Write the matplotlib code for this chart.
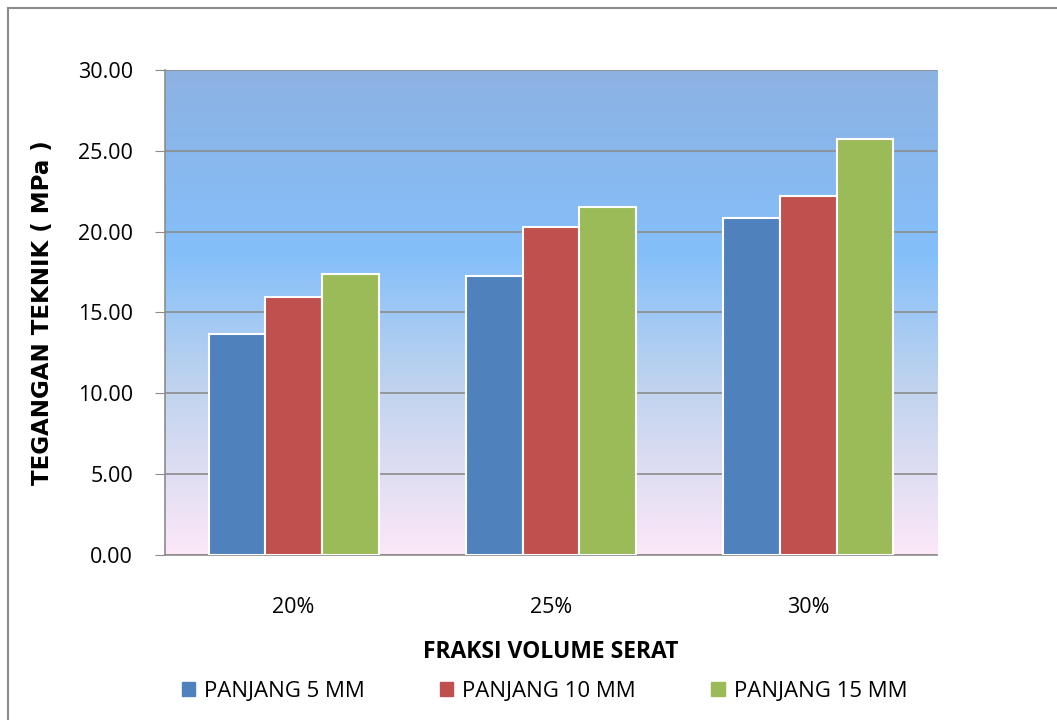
import numpy as np
import matplotlib
matplotlib.use("Agg")
import matplotlib.pyplot as plt
from matplotlib.colors import LinearSegmentedColormap
from matplotlib.lines import Line2D

plt.rcParams["font.family"] = ["Open Sans", "DejaVu Sans"]

categories = ["20%", "25%", "30%"]
series = ["PANJANG 5 MM", "PANJANG 10 MM", "PANJANG 15 MM"]
panjang_5 = [13.70, 17.28, 20.84]
panjang_10 = [15.95, 20.27, 22.18]
panjang_15 = [17.36, 21.55, 25.75]
colors = ["#4F81BD", "#C0504D", "#9BBB59"]
yticks = [0, 5, 10, 15, 20, 25, 30]

fig = plt.figure(figsize=(10.57, 7.2), dpi=100)
ax = fig.add_axes([0.156, 0.229, 0.7305, 0.674])

# gradient background (bottom pink -> bright blue -> muted blue top)
grad = LinearSegmentedColormap.from_list(
    "bg", [(0.0, "#FCE8F8"), (0.35, "#BFD3EE"), (0.62, "#84BFFA"), (1.0, "#8DB2E2")])
ax.imshow(np.linspace(0, 1, 256).reshape(-1, 1), aspect="auto", cmap=grad,
          extent=(-0.5, 2.5, 0, 30), origin="lower", zorder=0)

x = np.arange(len(categories))
w = 0.22
for i, (vals, c) in enumerate(zip([panjang_5, panjang_10, panjang_15], colors)):
    ax.bar(x + (i - 1) * w, vals, w, color=c, edgecolor="white", linewidth=1.5,
           label=series[i], zorder=3)

ax.set_xlim(-0.5, 2.5)
ax.set_ylim(0, 30)
ax.set_yticks(yticks)
ax.set_yticklabels([f"{t:.2f}" for t in yticks], fontsize=15.5)
ax.set_xticks(x)
ax.set_xticklabels(categories, fontsize=15.5)
ax.grid(axis="y", color="#8c8c8c", lw=1.2, zorder=1)
ax.set_axisbelow(False)
for s in ("top", "right"):
    ax.spines[s].set_visible(False)
for s in ("left", "bottom"):
    ax.spines[s].set_color("#8c8c8c")
    ax.spines[s].set_linewidth(1.2)
ax.tick_params(axis="y", length=7, color="#8c8c8c", pad=16)
ax.tick_params(axis="x", length=0, pad=30)

ax.set_ylabel("TEGANGAN TEKNIK ( MPa )", fontsize=16.5, fontweight="bold",
              family="DejaVu Sans", labelpad=17)
ax.set_xlabel("FRAKSI VOLUME SERAT", fontsize=16.5, fontweight="bold", labelpad=16)

handles = [plt.Rectangle((0, 0), 1, 1, color=c) for c in colors]
fig.legend(handles, series, loc="center", bbox_to_anchor=(0.515, 0.04), ncol=3,
           frameon=False, fontsize=16, handlelength=0.6, handleheight=0.6,
           handletextpad=0.4, columnspacing=3.4)

# outer frame (left and top visible)
fig.add_artist(Line2D([0.008, 0.008], [0, 0.989], transform=fig.transFigure, color="#8c8c8c", lw=1.5))
fig.add_artist(Line2D([0.008, 1.0], [0.989, 0.989], transform=fig.transFigure, color="#8c8c8c", lw=1.5))

fig.savefig("out.png", dpi=100)
